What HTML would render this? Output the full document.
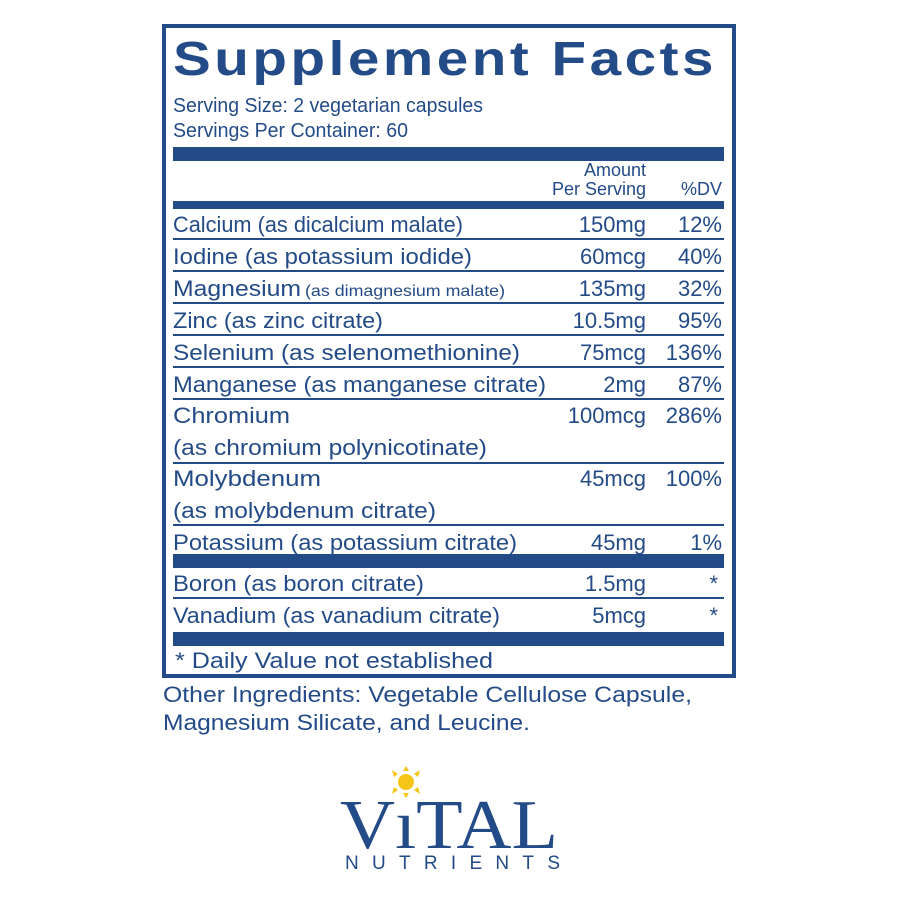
<!DOCTYPE html>
<html><head><meta charset="utf-8"><style>
html,body{margin:0;padding:0;background:#fff;width:900px;height:900px;overflow:hidden}
svg text{font-family:"Liberation Sans",sans-serif;fill:#234b87}
</style></head><body>
<svg width="900" height="900" viewBox="0 0 900 900" xmlns="http://www.w3.org/2000/svg">
<rect x="164" y="26" width="570" height="650" fill="none" stroke="#234b87" stroke-width="4"/>
<text x="173" y="75" font-size="48" font-weight="bold" textLength="544" lengthAdjust="spacingAndGlyphs" style="letter-spacing:3px">Supplement Facts</text>
<text x="173" y="112" font-size="20" textLength="310" lengthAdjust="spacingAndGlyphs">Serving Size: 2 vegetarian capsules</text>
<text x="173" y="137" font-size="20" textLength="235" lengthAdjust="spacingAndGlyphs">Servings Per Container: 60</text>
<rect x="173" y="147" width="551" height="14" fill="#234b87"/>
<text x="646" y="176" font-size="18" text-anchor="end">Amount</text>
<text x="646" y="195" font-size="18" text-anchor="end">Per Serving</text>
<text x="722" y="195" font-size="18" text-anchor="end">%DV</text>
<rect x="173" y="201" width="551" height="8" fill="#234b87"/>
<g fill="#234b87">
<rect x="173" y="238" width="551" height="2"/>
<rect x="173" y="270" width="551" height="2"/>
<rect x="173" y="302" width="551" height="2"/>
<rect x="173" y="334" width="551" height="2"/>
<rect x="173" y="366" width="551" height="2"/>
<rect x="173" y="398" width="551" height="2"/>
<rect x="173" y="462" width="551" height="2"/>
<rect x="173" y="524" width="551" height="2"/>
<rect x="173" y="554" width="551" height="14"/>
<rect x="173" y="597" width="551" height="2"/>
<rect x="173" y="632" width="551" height="14"/>
</g>
<g font-size="22">
<text x="173" y="232" textLength="290" lengthAdjust="spacingAndGlyphs">Calcium (as dicalcium malate)</text>
<text x="173" y="264" textLength="299" lengthAdjust="spacingAndGlyphs">Iodine (as potassium iodide)</text>
<text x="173" y="296" textLength="128" lengthAdjust="spacingAndGlyphs">Magnesium</text>
<text x="305" y="296" font-size="16" textLength="200" lengthAdjust="spacingAndGlyphs">(as dimagnesium malate)</text>
<text x="173" y="328" textLength="210" lengthAdjust="spacingAndGlyphs">Zinc (as zinc citrate)</text>
<text x="173" y="360" textLength="347" lengthAdjust="spacingAndGlyphs">Selenium (as selenomethionine)</text>
<text x="173" y="392" textLength="373" lengthAdjust="spacingAndGlyphs">Manganese (as manganese citrate)</text>
<text x="173" y="423" textLength="117" lengthAdjust="spacingAndGlyphs">Chromium</text>
<text x="173" y="455" textLength="314" lengthAdjust="spacingAndGlyphs">(as chromium polynicotinate)</text>
<text x="173" y="486" textLength="148" lengthAdjust="spacingAndGlyphs">Molybdenum</text>
<text x="173" y="518" textLength="263" lengthAdjust="spacingAndGlyphs">(as molybdenum citrate)</text>
<text x="173" y="550" textLength="344" lengthAdjust="spacingAndGlyphs">Potassium (as potassium citrate)</text>
<text x="173" y="591" textLength="251" lengthAdjust="spacingAndGlyphs">Boron (as boron citrate)</text>
<text x="173" y="623" textLength="327" lengthAdjust="spacingAndGlyphs">Vanadium (as vanadium citrate)</text>
<g text-anchor="end">
<text x="646" y="232">150mg</text><text x="722" y="232">12%</text>
<text x="646" y="264">60mcg</text><text x="722" y="264">40%</text>
<text x="646" y="296">135mg</text><text x="722" y="296">32%</text>
<text x="646" y="328">10.5mg</text><text x="722" y="328">95%</text>
<text x="646" y="360">75mcg</text><text x="722" y="360">136%</text>
<text x="646" y="392">2mg</text><text x="722" y="392">87%</text>
<text x="646" y="423">100mcg</text><text x="722" y="423">286%</text>
<text x="646" y="486">45mcg</text><text x="722" y="486">100%</text>
<text x="646" y="550">45mg</text><text x="722" y="550">1%</text>
<text x="646" y="591">1.5mg</text><text x="718" y="591">*</text>
<text x="646" y="623">5mcg</text><text x="718" y="623">*</text>
</g>
<text x="175" y="668" textLength="318" lengthAdjust="spacingAndGlyphs">* Daily Value not established</text>
<text x="163" y="702" textLength="529" lengthAdjust="spacingAndGlyphs">Other Ingredients: Vegetable Cellulose Capsule,</text>
<text x="163" y="730" textLength="367" lengthAdjust="spacingAndGlyphs">Magnesium Silicate, and Leucine.</text>
</g>
<g fill="#f5c518">
<circle cx="406" cy="782" r="8"/>
<polygon points="406,766 403,771 409,771"/>
<polygon points="420,770 414,774 418,777"/>
<polygon points="392,770 398,774 394,777"/>
<polygon points="420,794 414,790 418,787"/>
<polygon points="392,794 398,790 394,787"/>
<polygon points="406,798 403,793 409,793"/>
</g>
<text x="340" y="848" style="font-family:'Liberation Serif',serif" font-size="70" textLength="218" lengthAdjust="spacingAndGlyphs">VıTAL</text>
<text x="345" y="869" font-size="19" textLength="215" lengthAdjust="spacing">NUTRIENTS</text>
</svg>
</body></html>
